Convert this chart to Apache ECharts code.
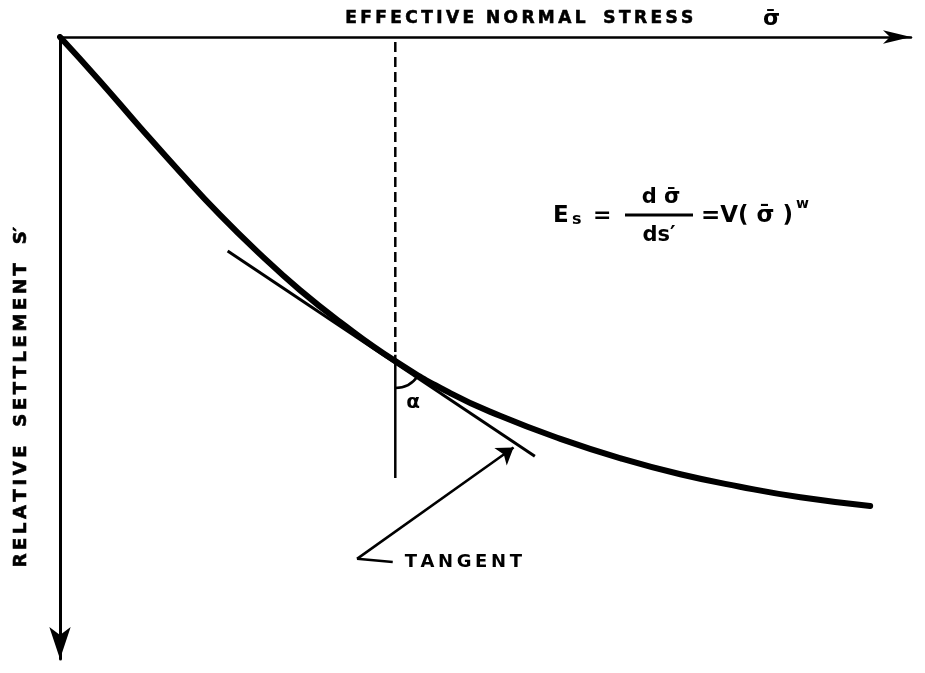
<!DOCTYPE html>
<html>
<head>
<meta charset="utf-8">
<script src="https://cdn.jsdelivr.net/npm/echarts@6/dist/echarts.min.js"></script>
<style>
  html, body { margin: 0; padding: 0; background: #fff; }
  #chart { width: 925px; height: 673px; }
</style>
</head>
<body>
<div id="chart"></div>
<script>
  // curve: effective stress along x, relative settlement downwards
  var stress     = [0, 0.47, 0.94, 1.41, 1.88, 2.35, 2.82, 3.29, 3.94, 4.58, 5.17, 5.88, 6.58, 7.29, 7.99, 8.70, 9.52];
  var settlement = [0, 0.71, 1.45, 2.17, 2.86, 3.49, 4.07, 4.58, 5.21, 5.72, 6.09, 6.46, 6.77, 7.03, 7.23, 7.40, 7.54];

  // tangent at the marked point
  var tangentX = [1.97, 5.58];
  var tangentY = [3.44, 6.74];
  var touchPoint = [3.94, 5.21];

  // vertical through the point (dashed above, solid below)
  var verticalX = 3.94;
  var dashedY = [0.08, 5.11];
  var solidY = [5.11, 7.09];

  // "TANGENT" pointer
  var pointerFrom = [3.49, 8.39];
  var pointerTo = [5.33, 6.60];
  var stubTo = [3.91, 8.44];
  var tangentLabelAt = [4.05, 8.44];
  var alphaAt = [4.15, 5.88];

  var FONT = 'DejaVu Sans';

  function spaced(s) {
    return s.split('').join('\u2009');
  }

  var curveData = stress.map(function (x, i) { return [x, settlement[i]]; });

  var chart = echarts.init(document.getElementById('chart'));

  var option = {
    animation: false,
    backgroundColor: '#fff',
    grid: { left: 60, top: 37, right: 14, bottom: 14 },
    xAxis: {
      type: 'value', min: 0, max: 10, position: 'top',
      axisLine: { onZero: false, symbol: ['none', 'arrow'], symbolSize: [10, 28],
        lineStyle: { color: '#000', width: 2.5 } },
      axisTick: { show: false }, axisLabel: { show: false }, splitLine: { show: false }
    },
    yAxis: {
      type: 'value', min: 0, max: 10, inverse: true,
      axisLine: { onZero: false, symbol: ['arrow', 'none'], symbolSize: [16, 32],
        lineStyle: { color: '#000', width: 3 } },
      axisTick: { show: false }, axisLabel: { show: false }, splitLine: { show: false }
    },
    graphic: [
      {
        type: 'text', left: 345, top: 10,
        style: { text: spaced('EFFECTIVE') + '  ' + spaced('NORMAL') + '   ' + spaced('STRESS'),
          font: 'bold 17px ' + FONT, fill: '#000', stroke: '#000', lineWidth: 0.6 }
      },
      {
        type: 'text', x: 763, y: 19,
        style: { text: 'σ̄', font: 'bold 22px ' + FONT, fill: '#000', verticalAlign: 'middle' }
      },
      {
        type: 'text', x: 21, y: 397, rotation: Math.PI / 2,
        style: { text: spaced('RELATIVE') + '   ' + spaced('SETTLEMENT') + '   S\u2032',
          font: 'bold 18px ' + FONT, fill: '#000', stroke: '#000', lineWidth: 0.6,
          align: 'center', verticalAlign: 'middle' }
      },
      {
        type: 'group', x: 553, y: 216,
        children: [
          { type: 'text', x: 0, y: 0, style: { text: 'E', font: 'bold 23px ' + FONT, fill: '#000', verticalAlign: 'middle' } },
          { type: 'text', x: 19, y: 4, style: { text: 's', font: 'bold 16px ' + FONT, fill: '#000', verticalAlign: 'middle' } },
          { type: 'text', x: 40, y: 0, style: { text: '=', font: 'bold 22px ' + FONT, fill: '#000', verticalAlign: 'middle' } },
          { type: 'line', shape: { x1: 72, y1: -1, x2: 140, y2: -1 }, style: { stroke: '#000', lineWidth: 3 } },
          { type: 'text', x: 108, y: -18, style: { text: 'd σ̄', font: 'bold 21px ' + FONT, fill: '#000', align: 'center', verticalAlign: 'middle' } },
          { type: 'text', x: 106, y: 20, style: { text: 'ds\u2032', font: 'bold 21px ' + FONT, fill: '#000', align: 'center', verticalAlign: 'middle' } },
          { type: 'text', x: 148, y: 0, style: { text: '=V( σ̄ )', font: 'bold 23px ' + FONT, fill: '#000', verticalAlign: 'middle' } },
          { type: 'text', x: 243, y: -12, style: { text: 'w', font: 'bold 14px ' + FONT, fill: '#000', verticalAlign: 'middle' } }
        ]
      }
    ],
    series: [
      {
        name: 'curve', type: 'line', smooth: true, symbol: 'none',
        lineStyle: { color: '#000', width: 6, cap: 'round' },
        data: curveData
      },
      {
        name: 'tangent', type: 'line', symbol: 'none',
        lineStyle: { color: '#000', width: 3 },
        data: [[tangentX[0], tangentY[0]], [tangentX[1], tangentY[1]]]
      },
      {
        name: 'vertical dashed', type: 'line', symbol: 'none',
        lineStyle: { color: '#000', width: 2.5, type: [10, 5] },
        data: [[verticalX, dashedY[0]], [verticalX, dashedY[1]]]
      },
      {
        name: 'vertical solid', type: 'line', symbol: 'none',
        lineStyle: { color: '#000', width: 2.5 },
        data: [[verticalX, solidY[0]], [verticalX, solidY[1]]]
      },
      {
        name: 'pointer', type: 'lines', coordinateSystem: 'cartesian2d',
        symbol: ['none', 'arrow'], symbolSize: [8, 16],
        lineStyle: { color: '#000', width: 2.5, opacity: 1 },
        data: [{ coords: [pointerFrom, pointerTo] }]
      },
      {
        name: 'pointer stub', type: 'lines', coordinateSystem: 'cartesian2d',
        symbol: 'none',
        lineStyle: { color: '#000', width: 2.5, opacity: 1 },
        data: [{ coords: [pointerFrom, stubTo] }]
      },
      {
        name: 'angle', type: 'custom',
        renderItem: function (params, api) {
          var p = api.coord([api.value(0), api.value(1)]);
          return {
            type: 'arc',
            shape: { cx: p[0], cy: p[1], r: 27, startAngle: Math.atan(0.668), endAngle: Math.PI / 2, clockwise: true },
            style: { stroke: '#000', lineWidth: 2.5, fill: null }
          };
        },
        data: [touchPoint]
      },
      {
        name: 'labels', type: 'scatter', symbolSize: 0,
        itemStyle: { opacity: 1 },
        label: { show: true, formatter: '{b}', color: '#000', fontFamily: FONT, fontWeight: 'bold' },
        data: [
          { name: spaced('TANGENT'), value: tangentLabelAt,
            label: { position: 'right', distance: 0, fontSize: 18, color: '#000' } },
          { name: 'α', value: alphaAt,
            label: { position: 'inside', fontSize: 20, color: '#000' } }
        ]
      }
    ]
  };

  chart.setOption(option);
</script>
</body>
</html>
